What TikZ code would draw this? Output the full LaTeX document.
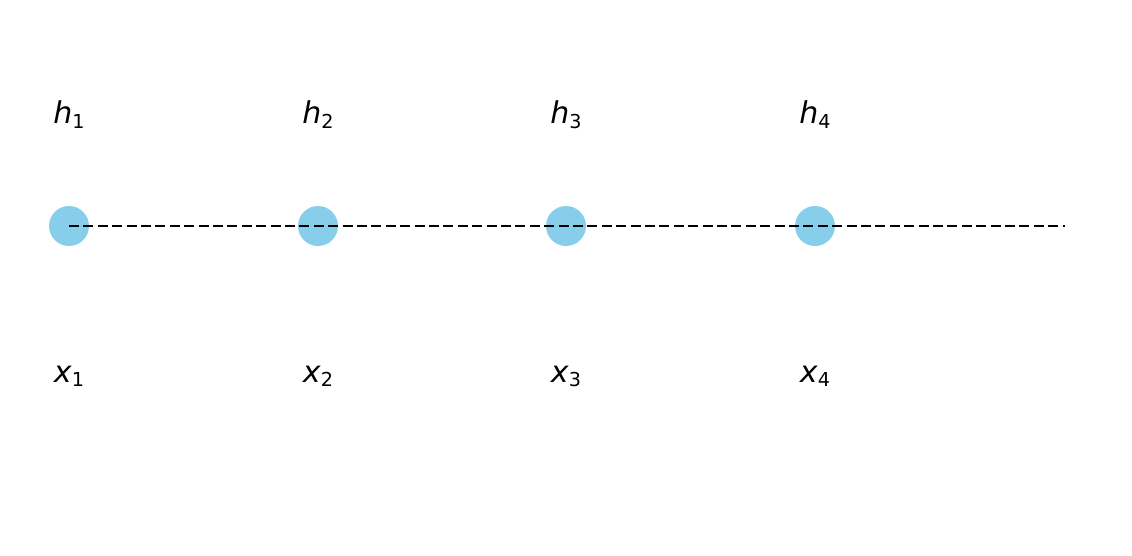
\documentclass[tikz,border=0pt]{standalone}
\usepackage{fontspec}
\setmainfont{DejaVu Sans}
\definecolor{skyblue}{RGB}{135,206,235}
\newcommand{\lbl}[2]{\textit{#1}\raisebox{-2.2pt}{\fontsize{9.6pt}{11pt}\selectfont #2}}

\begin{document}
\begin{tikzpicture}[x=0.5pt, y=-0.5pt,
		state/.style={circle, fill=skyblue, minimum size=20pt, inner sep=0pt},
		tag/.style={anchor=base, inner sep=0pt, font=\fontsize{15pt}{17pt}\selectfont},
		chain/.style={line width=1.4pt, dash pattern=on 5pt off 2.2pt}
		]
	\useasboundingbox (0,0) rectangle (1132,556);
	% hidden states
	\node [state] (s1) at (69,226) {};
	\node [state] (s2) at (318,226) {};
	\node [state] (s3) at (566,226) {};
	\node [state] (s4) at (815,226) {};
	\coordinate (end) at (1065,226);
	% labels
	\node [tag] (h1) at (69,124) {\lbl{h}{1}};
	\node [tag] (h2) at (318,124) {\lbl{h}{2}};
	\node [tag] (h3) at (566,124) {\lbl{h}{3}};
	\node [tag] (h4) at (815,124) {\lbl{h}{4}};
	\node [tag] (x1) at (69,382.5) {\lbl{x}{1}};
	\node [tag] (x2) at (318,382.5) {\lbl{x}{2}};
	\node [tag] (x3) at (566,382.5) {\lbl{x}{3}};
	\node [tag] (x4) at (815,382.5) {\lbl{x}{4}};
	% chain
	\draw [chain] (s1.center) -- (s2.center) -- (s3.center) -- (s4.center) -- (end);
\end{tikzpicture}
\end{document}
